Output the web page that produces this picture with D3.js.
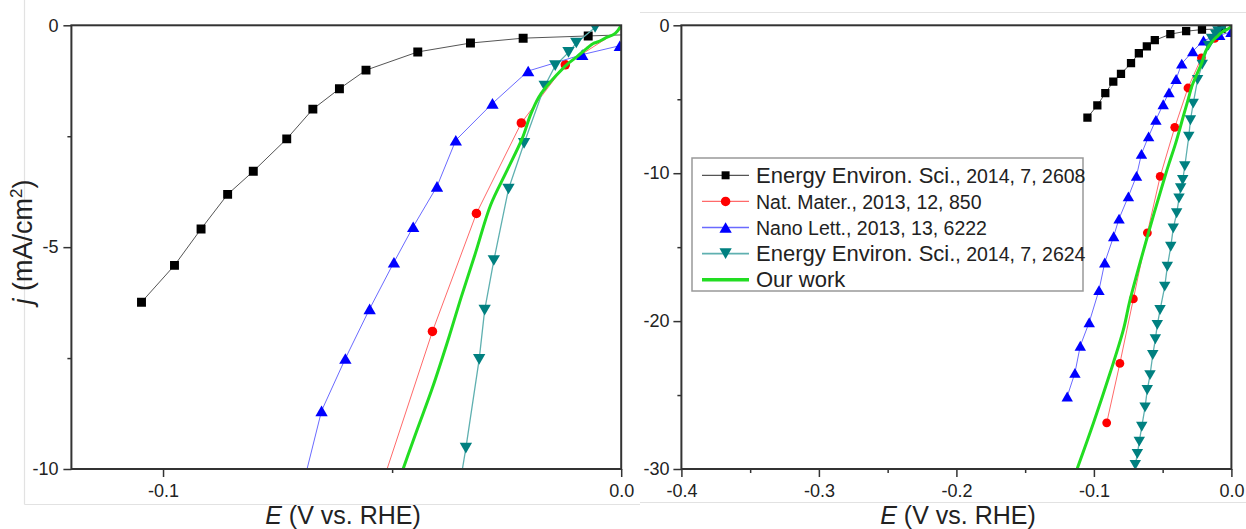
<!DOCTYPE html>
<html><head><meta charset="utf-8">
<script src="https://cdn.jsdelivr.net/npm/d3@7/dist/d3.min.js"></script>
<style>
html,body{margin:0;padding:0;background:#fff;}
svg{display:block;}
text{font-family:"Liberation Sans",Arial,Helvetica,sans-serif;fill:#222;}
</style></head><body>
<svg id="chart" width="1246" height="529"></svg>
<script>
// ---------------- DATA ----------------
const seriesJournals = ["Energy Environ. Sci.", "Nat. Mater.", "Nano Lett.", "Energy Environ. Sci.", "Our work"];
const seriesRefs = [", 2014, 7, 2608", ", 2013, 12, 850", ", 2013, 13, 6222", ", 2014, 7, 2624", ""];

// [E (V vs. RHE), j (mA/cm2)]
const dataEES2608 = [[0.005,-0.2],[-0.0072,-0.24],[-0.0214,-0.29],[-0.0329,-0.40],[-0.0444,-0.60],[-0.0557,-1.01],
  [-0.0615,-1.43],[-0.0673,-1.89],[-0.0730,-2.56],[-0.0803,-3.29],[-0.0859,-3.81],[-0.0917,-4.59],[-0.0975,-5.41],[-0.1047,-6.24]];
const dataNatMater = [[0.002,0.05],[-0.0122,-0.89],[-0.0218,-2.2],[-0.0316,-4.24],[-0.0412,-6.90],[-0.0518,-10.22],
  [-0.0611,-14.03],[-0.0713,-18.5],[-0.0811,-22.86],[-0.0907,-26.88]];
const dataNanoLett = [[-0.0003,-0.46],[-0.0085,-0.66],[-0.0203,-1.03],[-0.0281,-1.76],[-0.0361,-2.59],[-0.0402,-3.63],
  [-0.0454,-4.54],[-0.0496,-5.34],[-0.0549,-6.39],[-0.0602,-7.51],[-0.0654,-8.69],[-0.0690,-10.18],[-0.0749,-11.57],
  [-0.0817,-13.07],[-0.0856,-14.26],[-0.0921,-16.04],[-0.0963,-17.91],[-0.1034,-20.08],[-0.1099,-21.67],[-0.1138,-23.5],[-0.1194,-25.1]];
const dataEES2624 = [[-0.0057,-0.05],[-0.0098,-0.40],[-0.0115,-0.61],[-0.0144,-0.91],[-0.0167,-1.37],[-0.0212,-2.66],
  [-0.0246,-3.69],[-0.0278,-5.30],[-0.0298,-6.42],[-0.0310,-7.53],[-0.0339,-9.53],[-0.0354,-10.46],[-0.0369,-11.02],
  [-0.0381,-11.70],[-0.0398,-12.71],[-0.0423,-13.73],[-0.0441,-14.97],[-0.0466,-16.32],[-0.0485,-17.67],[-0.0519,-19.25],
  [-0.0539,-20.26],[-0.0553,-21.23],[-0.0572,-22.29],[-0.0592,-23.65],[-0.0612,-24.66],[-0.0628,-25.83],[-0.0652,-27.14],
  [-0.0670,-28.15],[-0.0684,-28.98],[-0.0699,-29.73]];
const dataOurWork = [[0,0],[-0.0013,-0.18],[-0.0035,-0.29],[-0.0050,-0.37],[-0.0061,-0.41],[-0.0075,-0.52],[-0.0097,-0.71],
  [-0.0119,-0.89],[-0.0141,-1.12],[-0.0163,-1.38],[-0.0180,-1.62],[-0.0198,-2.02],[-0.0216,-2.55],[-0.0251,-3.31],
  [-0.0285,-4.05],[-0.0318,-5.13],[-0.0349,-6.12],[-0.0376,-7.03],[-0.0412,-8.17],[-0.0447,-9.16],[-0.0476,-10.0],
  [-0.0604,-14.06],[-0.0737,-18.57],[-0.0786,-20.6],[-0.0883,-23.53],[-0.1004,-26.91],[-0.1125,-30.07]];

// ticks
const leftXDomain = [-0.12, 0], leftYDomain = [-10, 0];
const leftXTicks = [-0.1, 0.0], leftXTickLabels = ["-0.1", "0.0"], leftXMinor = [-0.05];
const leftYTicks = [0, -5, -10], leftYTickLabels = ["0", "-5", "-10"], leftYMinor = [-2.5, -7.5];
const rightXDomain = [-0.4, 0], rightYDomain = [-30, 0];
const rightXTicks = [-0.4, -0.3, -0.2, -0.1, 0.0], rightXTickLabels = ["-0.4", "-0.3", "-0.2", "-0.1", "0.0"];
const rightXMinor = [-0.35, -0.25, -0.15, -0.05];
const rightYTicks = [0, -10, -20, -30], rightYTickLabels = ["0", "-10", "-20", "-30"], rightYMinor = [-5, -15, -25];

// ---------------- STYLE ----------------
const seriesData = [dataEES2608, dataNatMater, dataNanoLett, dataEES2624, dataOurWork];
const styles = [
  {line:"#555555", lw:1, marker:"square", fill:"#000000"},
  {line:"#ff6a6a", lw:1, marker:"circle", fill:"#ff0000"},
  {line:"#6a6aff", lw:1, marker:"up", fill:"#0000ff"},
  {line:"#5fb0b0", lw:1.3, marker:"down", fill:"#008080"},
  {line:"#22dd22", lw:3, marker:null, fill:null, smooth:true}
];
const journalSize = [22, 19.5, 19.5, 22, 22];

function markerPath(type, s) {
  if (type === "square") { const h = s*0.47; return `M${-h},${-h}H${h}V${h}H${-h}Z`; }
  if (type === "circle") { const r = s*0.5; return `M${r},0A${r},${r} 0 1,1 ${-r},0A${r},${r} 0 1,1 ${r},0Z`; }
  const w = s*1.3, h = s*1.12;
  if (type === "up") return `M0,${-h/2}L${w/2},${h/2}L${-w/2},${h/2}Z`;
  return `M${-w/2},${-h/2}L${w/2},${-h/2}L0,${h/2}Z`;
}

const svg = d3.select("#chart");

// faint borders of the original pasted images
const bg = svg.append("g").attr("stroke", "#e2e2e2").attr("stroke-width", 1.2);
bg.append("line").attr("x1", 24.5).attr("x2", 24.5).attr("y1", 0).attr("y2", 504.5);
bg.append("line").attr("x1", 24.5).attr("x2", 640).attr("y1", 504.5).attr("y2", 504.5);
bg.append("line").attr("x1", 640).attr("x2", 1246).attr("y1", 12.5).attr("y2", 12.5);
bg.append("line").attr("x1", 640).attr("x2", 1246).attr("y1", 502.5).attr("y2", 502.5);

function drawPanel(cfg) {
  const x = d3.scaleLinear().domain(cfg.xDomain).range(cfg.xRange);
  const y = d3.scaleLinear().domain(cfg.yDomain).range(cfg.yRange);
  const g = svg.append("g");
  const cid = "clip-" + cfg.id;
  svg.append("defs").append("clipPath").attr("id", cid).append("rect")
    .attr("x", cfg.xRange[0]).attr("y", cfg.yRange[1])
    .attr("width", cfg.xRange[1] - cfg.xRange[0]).attr("height", cfg.yRange[0] - cfg.yRange[1]);

  const plot = g.append("g").attr("clip-path", `url(#${cid})`);
  seriesData.forEach((data, i) => {
    const st = styles[i];
    const line = d3.line().x(d => x(d[0])).y(d => y(d[1]))
      .curve(st.smooth ? d3.curveCatmullRom.alpha(0.5) : d3.curveLinear);
    plot.append("path").datum(data).attr("d", line).attr("fill", "none")
      .attr("stroke", st.line).attr("stroke-width", st.lw).attr("stroke-linejoin", "round");
    if (st.marker) {
      plot.append("g").selectAll("path").data(data).join("path")
        .attr("transform", d => `translate(${x(d[0])},${y(d[1])})`)
        .attr("d", markerPath(st.marker, cfg.ms)).attr("fill", st.fill);
    }
  });

  const xb = cfg.yRange[0], yl = cfg.xRange[0];
  const styleAxis = (sel, fs) => {
    sel.select(".domain").remove();
    sel.selectAll(".tick line").attr("stroke", "#333").attr("stroke-width", 1.5);
    sel.selectAll(".tick text").attr("font-size", fs).attr("fill", "#222")
      .attr("font-family", "'Liberation Sans', Arial, sans-serif");
  };
  g.append("g").attr("transform", `translate(0,${xb})`)
    .call(d3.axisBottom(x).tickValues(cfg.xTicks).tickFormat((d, i) => cfg.xLabels[i]).tickSize(8).tickPadding(7))
    .call(s => styleAxis(s, 18));
  g.append("g").attr("transform", `translate(0,${xb})`)
    .call(d3.axisBottom(x).tickValues(cfg.xMinor).tickFormat("").tickSize(4))
    .call(s => styleAxis(s, 18));
  g.append("g").attr("transform", `translate(${yl},0)`)
    .call(d3.axisLeft(y).tickValues(cfg.yTicks).tickFormat((d, i) => cfg.yLabels[i]).tickSize(8).tickPadding(cfg.yPad))
    .call(s => styleAxis(s, 18));
  g.append("g").attr("transform", `translate(${yl},0)`)
    .call(d3.axisLeft(y).tickValues(cfg.yMinor).tickFormat("").tickSize(4))
    .call(s => styleAxis(s, 18));

  g.append("rect").attr("x", cfg.xRange[0]).attr("y", cfg.yRange[1])
    .attr("width", cfg.xRange[1] - cfg.xRange[0]).attr("height", cfg.yRange[0] - cfg.yRange[1])
    .attr("fill", "none").attr("stroke", "#333").attr("stroke-width", 2);

  const xt = g.append("text").attr("x", cfg.xTitleX).attr("y", 523.5).attr("text-anchor", "middle")
    .attr("font-size", 25);
  xt.append("tspan").attr("font-style", "italic").text("E");
  xt.append("tspan").text(" (V vs. RHE)");
  return {x, y, g};
}

drawPanel({id:"left", xDomain:leftXDomain, yDomain:leftYDomain, xRange:[71.4, 621.2], yRange:[469, 25.3],
  xTicks:leftXTicks, xLabels:leftXTickLabels, xMinor:leftXMinor,
  yTicks:leftYTicks, yLabels:leftYTickLabels, yMinor:leftYMinor, yPad:5, ms:9.5, xTitleX:343});
drawPanel({id:"right", xDomain:rightXDomain, yDomain:rightYDomain, xRange:[681.4, 1231.4], yRange:[469, 25.3],
  xTicks:rightXTicks, xLabels:rightXTickLabels, xMinor:rightXMinor,
  yTicks:rightYTicks, yLabels:rightYTickLabels, yMinor:rightYMinor, yPad:4, ms:8.8, xTitleX:958});

// Y title (left)
const yt = svg.append("text").attr("transform", "translate(32,242) rotate(-90)")
  .attr("text-anchor", "middle").attr("font-size", 27);
yt.append("tspan").attr("font-style", "italic").text("j");
yt.append("tspan").text(" (mA/cm");
yt.append("tspan").attr("font-size", 17).attr("dy", -10).text("2");
yt.append("tspan").attr("dy", 10).text(")");

// Legend
const lg = svg.append("g");
lg.append("rect").attr("x", 692).attr("y", 158).attr("width", 391).attr("height", 133)
  .attr("fill", "#fff").attr("stroke", "#999").attr("stroke-width", 1.5);
seriesJournals.forEach((name, i) => {
  const cy = 175.3 + i * 26.1;
  const st = styles[i];
  lg.append("line").attr("x1", 702).attr("x2", 749).attr("y1", cy).attr("y2", cy)
    .attr("stroke", st.line).attr("stroke-width", st.lw === 3 ? 3.5 : st.lw + 0.3);
  if (st.marker) {
    lg.append("path").attr("transform", `translate(725.6,${cy})`)
      .attr("d", markerPath(st.marker, st.marker === "square" ? 8.5 : 9.5)).attr("fill", st.fill);
  }
  const t = lg.append("text").attr("x", 756).attr("y", cy + 7.5);
  t.append("tspan").attr("font-size", journalSize[i]).text(name);
  if (seriesRefs[i]) t.append("tspan").attr("font-size", 19.5).text(seriesRefs[i]);
});
</script>
</body></html>
